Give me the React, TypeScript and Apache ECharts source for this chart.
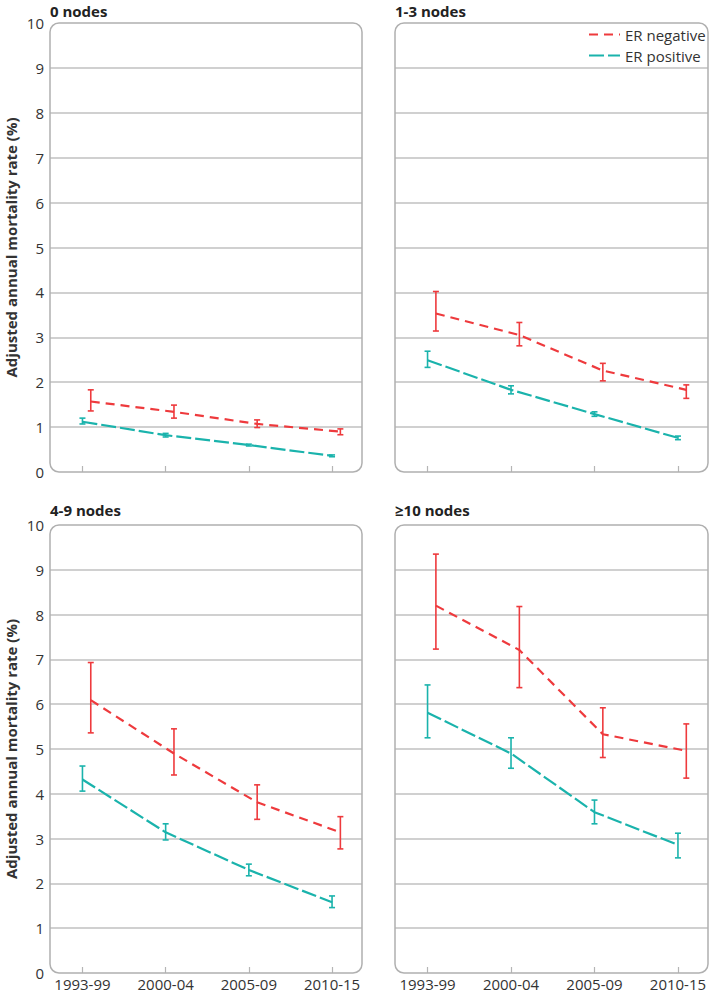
import React, { useEffect, useRef } from "react";
import * as echarts from "echarts";

const categories = ["1993-99", "2000-04", "2005-09", "2010-15"];
const panelTitles = ["0 nodes", "1-3 nodes", "4-9 nodes", "≥10 nodes"];
const yTicks = [0, 10, 1];

// ER negative: estimates and 95% CI
const erNeg0 = [1.57, 1.34, 1.07, 0.9];
const erNeg0Low = [1.36, 1.2, 0.99, 0.83];
const erNeg0High = [1.83, 1.49, 1.16, 0.96];
const erNeg13 = [3.53, 3.05, 2.26, 1.83];
const erNeg13Low = [3.14, 2.81, 2.03, 1.64];
const erNeg13High = [4.02, 3.33, 2.42, 1.94];
const erNeg49 = [6.09, 4.9, 3.81, 3.14];
const erNeg49Low = [5.36, 4.42, 3.43, 2.77];
const erNeg49High = [6.93, 5.45, 4.2, 3.49];
const erNeg10 = [8.2, 7.21, 5.33, 4.96];
const erNeg10Low = [7.23, 6.37, 4.81, 4.35];
const erNeg10High = [9.35, 8.18, 5.92, 5.56];

// ER positive: estimates and 95% CI
const erPos0 = [1.12, 0.82, 0.6, 0.36];
const erPos0Low = [1.07, 0.78, 0.58, 0.34];
const erPos0High = [1.2, 0.86, 0.62, 0.38];
const erPos13 = [2.49, 1.83, 1.29, 0.76];
const erPos13Low = [2.33, 1.74, 1.24, 0.72];
const erPos13High = [2.69, 1.92, 1.34, 0.8];
const erPos49 = [4.32, 3.14, 2.3, 1.58];
const erPos49Low = [4.06, 2.97, 2.17, 1.46];
const erPos49High = [4.62, 3.33, 2.43, 1.72];
const erPos10 = [5.81, 4.9, 3.59, 2.86];
const erPos10Low = [5.25, 4.57, 3.33, 2.57];
const erPos10High = [6.43, 5.25, 3.86, 3.12];

const RED = "#EE3A3D";
const TEAL = "#1AB3AC";
const FONT = "'Open Sans', 'Noto Sans', sans-serif";
const DODGE = 0.1;

const panelData = [
  { neg: [erNeg0, erNeg0Low, erNeg0High], pos: [erPos0, erPos0Low, erPos0High] },
  { neg: [erNeg13, erNeg13Low, erNeg13High], pos: [erPos13, erPos13Low, erPos13High] },
  { neg: [erNeg49, erNeg49Low, erNeg49High], pos: [erPos49, erPos49Low, erPos49High] },
  { neg: [erNeg10, erNeg10Low, erNeg10High], pos: [erPos10, erPos10Low, erPos10High] },
];

const grids = [
  { left: 50, top: 23, width: 312, height: 449 },
  { left: 395, top: 23, width: 313, height: 449 },
  { left: 50, top: 525, width: 312, height: 448 },
  { left: 395, top: 525, width: 313, height: 448 },
];

function errorBarRender(color: string) {
  return (params: any, api: any) => {
    const x = api.value(0);
    const lo = api.coord([x, api.value(1)]);
    const hi = api.coord([x, api.value(2)]);
    const c = 3;
    const style = { stroke: color, lineWidth: 1.6 };
    return {
      type: "group",
      children: [
        { type: "line", shape: { x1: lo[0], y1: lo[1], x2: hi[0], y2: hi[1] }, style },
        { type: "line", shape: { x1: lo[0] - c, y1: lo[1], x2: lo[0] + c, y2: lo[1] }, style },
        { type: "line", shape: { x1: hi[0] - c, y1: hi[1], x2: hi[0] + c, y2: hi[1] }, style },
      ],
    };
  };
}

export default function App() {
  const ref = useRef<HTMLDivElement>(null);
  useEffect(() => {
    if (!ref.current) return;
    const chart = echarts.init(ref.current, undefined, { renderer: "svg" });

    const xAxis: any[] = [];
    const yAxis: any[] = [];
    const series: any[] = [];
    const graphics: any[] = [];

    grids.forEach((g, i) => {
      const isLeft = i % 2 === 0;
      const isBottom = i >= 2;
      xAxis.push({
        type: "value",
        gridIndex: i,
        min: -0.39,
        max: 3.36,
        axisLine: { show: false },
        splitLine: { show: false },
        axisTick: {
          show: true,
          inside: true,
          length: 6,
          customValues: [0, 1, 2, 3],
          lineStyle: { color: "#b5b5b5", width: 1.2 },
        },
        axisLabel: {
          show: isBottom,
          customValues: [0, 1, 2, 3],
          formatter: (v: number) => categories[Math.round(v)] ?? "",
          fontFamily: FONT,
          fontSize: 15,
          color: "#333",
          margin: 3,
        },
      });
      yAxis.push({
        type: "value",
        gridIndex: i,
        min: yTicks[0],
        max: yTicks[1],
        interval: yTicks[2],
        axisLine: { show: false },
        axisTick: { show: false },
        splitLine: {
          show: true,
          showMinLine: false,
          showMaxLine: false,
          lineStyle: { color: "#c0c0c0", width: 1.5 },
        },
        axisLabel: {
          show: isLeft,
          fontFamily: FONT,
          fontSize: 15,
          color: "#333",
          margin: 6,
        },
        name: isLeft ? "Adjusted annual mortality rate (%)" : "",
        nameLocation: "middle",
        nameGap: 32,
        nameTextStyle: { fontFamily: FONT, fontSize: 15, fontWeight: "bold", color: "#333" },
      });
      graphics.push({
        type: "rect",
        shape: { x: g.left, y: g.top, width: g.width, height: g.height, r: 9 },
        style: { fill: "none", stroke: "#b0b0b0", lineWidth: 1.5 },
        z: 10,
      });
      graphics.push({
        type: "text",
        x: g.left,
        y: isBottom ? g.top - 15 : g.top - 12,
        style: {
          text: panelTitles[i],
          font: `bold 15px ${FONT}`,
          fill: "#222",
          textAlign: "left",
          textVerticalAlign: "middle",
        },
      });

      const d = panelData[i];
      series.push({
        name: "ER negative",
        type: "line",
        xAxisIndex: i,
        yAxisIndex: i,
        symbol: "none",
        data: d.neg[0].map((v, k) => [k + DODGE, v]),
        lineStyle: { color: RED, width: 2.2, type: [9, 6] },
        itemStyle: { color: RED },
        z: 3,
      });
      series.push({
        name: "ER positive",
        type: "line",
        xAxisIndex: i,
        yAxisIndex: i,
        symbol: "none",
        data: d.pos[0].map((v, k) => [k, v]),
        lineStyle: { color: TEAL, width: 2.2, type: [15, 4] },
        itemStyle: { color: TEAL },
        z: 3,
      });
      series.push({
        name: "negCI",
        type: "custom",
        xAxisIndex: i,
        yAxisIndex: i,
        renderItem: errorBarRender(RED),
        encode: { x: 0, y: [1, 2] },
        data: d.neg[1].map((lo, k) => [k + DODGE, lo, d.neg[2][k]]),
        z: 4,
      });
      series.push({
        name: "posCI",
        type: "custom",
        xAxisIndex: i,
        yAxisIndex: i,
        renderItem: errorBarRender(TEAL),
        encode: { x: 0, y: [1, 2] },
        data: d.pos[1].map((lo, k) => [k, lo, d.pos[2][k]]),
        z: 4,
      });
    });

    chart.setOption({
      animation: false,
      backgroundColor: "#fff",
      grid: grids.map((g) => ({ ...g, containLabel: false })),
      xAxis,
      yAxis,
      series,
      legend: {
        data: ["ER negative", "ER positive"],
        orient: "vertical",
        left: 588,
        top: 27,
        padding: 0,
        itemWidth: 31,
        itemHeight: 14,
        itemGap: 6,
        selectedMode: false,
        itemStyle: { opacity: 0, borderWidth: 0 },
        textStyle: { fontFamily: FONT, fontSize: 15, color: "#333" },
      },
      graphic: graphics,
    });
    return () => chart.dispose();
  }, []);
  return (
    <div
      ref={ref}
      style={{ position: "absolute", left: 0, top: 0, width: 711, height: 993 }}
    />
  );
}
